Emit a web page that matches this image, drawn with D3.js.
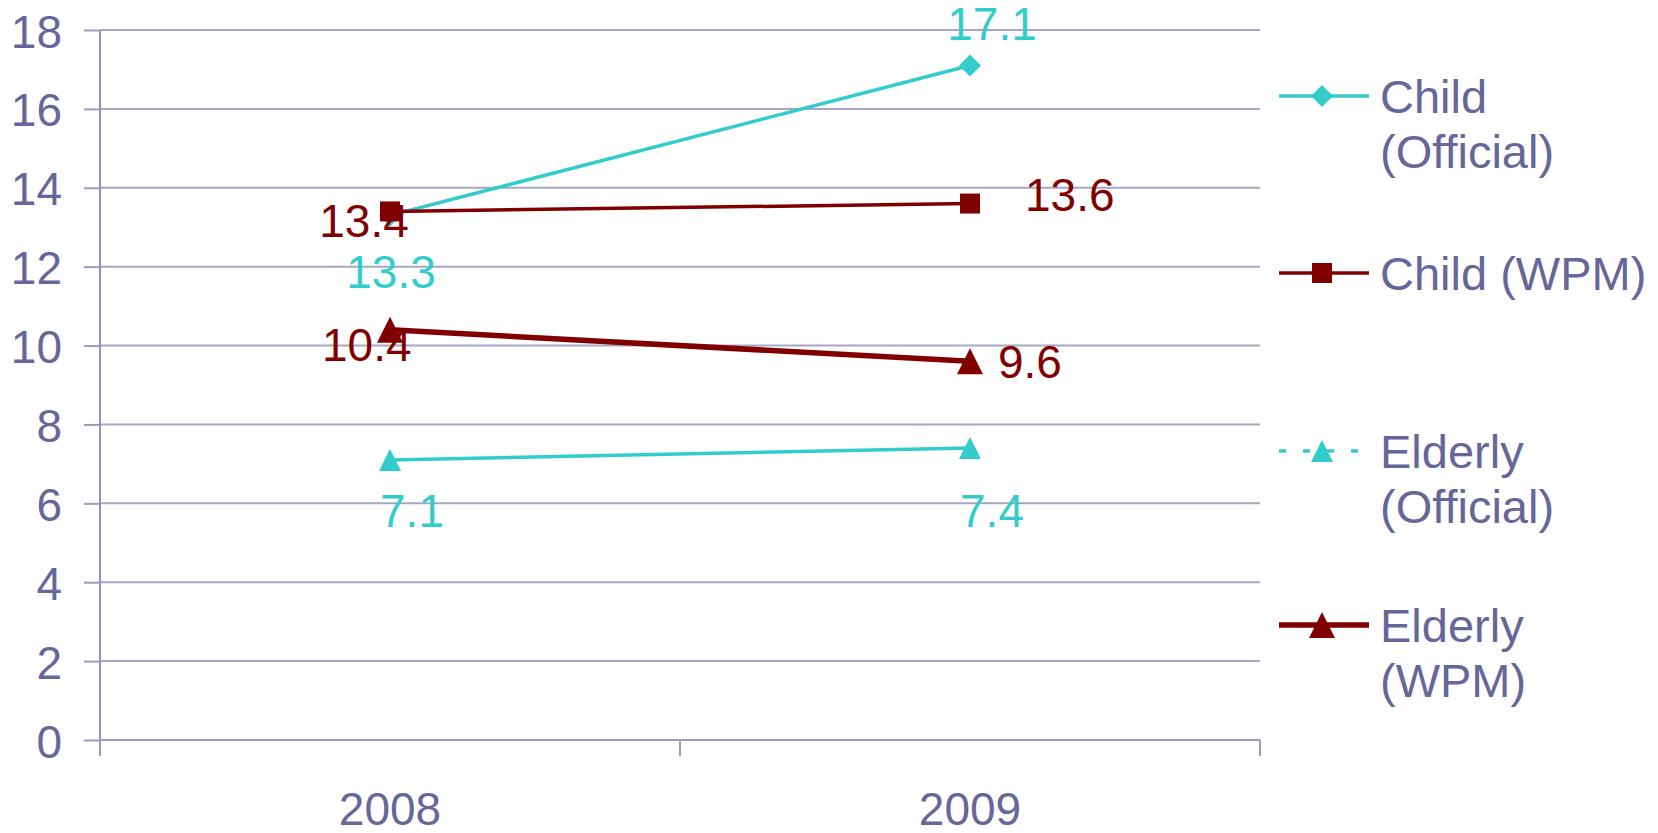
<!DOCTYPE html>
<html>
<head>
<meta charset="utf-8">
<script src="https://cdn.jsdelivr.net/npm/d3@7"></script>
<style>
  html, body { margin: 0; padding: 0; background: #ffffff; }
  svg { display: block; font-family: "Liberation Sans", Arial, sans-serif; }
</style>
</head>
<body>
<svg id="chart" width="1658" height="833"></svg>
<script>
// ---- data ----
const categories = ["2008", "2009"];
const yTicks = [0, 2, 4, 6, 8, 10, 12, 14, 16, 18];
const seriesNames = ["Child (Official)", "Child (WPM)", "Elderly (Official)", "Elderly (WPM)"];
const childOfficial = [13.3, 17.1];
const childWPM = [13.4, 13.6];
const elderlyOfficial = [7.1, 7.4];
const elderlyWPM = [10.4, 9.6];
const legendLines = [["Child", "(Official)"], ["Child (WPM)"], ["Elderly", "(Official)"], ["Elderly", "(WPM)"]];

// ---- styles ----
const teal = "#33CCCC", maroon = "#800000", textCol = "#666699";
const styles = [
  { color: teal,   width: 3.5, marker: "diamond",  size: 22, dash: null },
  { color: maroon, width: 3.5, marker: "square",   size: 20, dash: null },
  { color: teal,   width: 3.5, marker: "triangle", size: 22, dash: "7,17" },
  { color: maroon, width: 5.5, marker: "triangle", size: 26, dash: null }
];
// label placement: [dx from point, baseline y offset from point, anchor] per point
const labelPlacement = [
  [[1, 73, "middle"], [22, -26, "middle"]],
  [[-26, 26, "middle"], [55, 7, "start"]],
  [[22, 67, "middle"], [22, 79, "middle"]],
  [[-68, 31, "start"], [28, 17, "start"]]
];
const seriesValues = [childOfficial, childWPM, elderlyOfficial, elderlyWPM];

const svg = d3.select("#chart");
const plotLeft = 100, plotRight = 1260, plotTop = 30, plotBottom = 740;

const x = d3.scaleBand().domain(categories).range([plotLeft, plotRight]).paddingInner(0).paddingOuter(0);
const y = d3.scaleLinear().domain([0, 18]).range([plotBottom, plotTop]);
const cx = c => x(c) + x.bandwidth() / 2;

// gridlines
svg.append("g").selectAll("line").data(yTicks).join("line")
  .attr("x1", plotLeft).attr("x2", plotRight)
  .attr("y1", d => y(d)).attr("y2", d => y(d))
  .attr("stroke", "#A6A6C6").attr("stroke-width", 2);

// y axis
const yAxis = svg.append("g").attr("transform", `translate(${plotLeft},0)`)
  .call(d3.axisLeft(y).tickValues(yTicks).tickSize(16).tickPadding(22).tickSizeOuter(0));
yAxis.select(".domain").remove();
yAxis.selectAll(".tick line").attr("stroke", "#9C9CC0").attr("stroke-width", 2);
yAxis.selectAll(".tick text").attr("fill", textCol).attr("font-size", 46)
  .attr("font-family", "Liberation Sans, Arial, sans-serif").attr("dy", "0.37em");
svg.append("line").attr("x1", plotLeft).attr("x2", plotLeft).attr("y1", plotTop).attr("y2", plotBottom + 16)
  .attr("stroke", "#9090B8").attr("stroke-width", 2);

// x axis
svg.append("line").attr("x1", plotLeft).attr("x2", plotRight).attr("y1", plotBottom).attr("y2", plotBottom)
  .attr("stroke", "#9C9CC0").attr("stroke-width", 2);
const xBounds = [...categories.map(c => x(c)), plotRight];
svg.append("g").selectAll("line").data(xBounds).join("line")
  .attr("x1", d => d).attr("x2", d => d).attr("y1", plotBottom).attr("y2", plotBottom + 16)
  .attr("stroke", "#9C9CC0").attr("stroke-width", 2);
svg.append("g").selectAll("text").data(categories).join("text")
  .attr("x", d => cx(d)).attr("y", 825).attr("text-anchor", "middle")
  .attr("fill", textCol).attr("font-size", 46).text(d => d);

function markerPath(type, size) {
  const h = size / 2;
  if (type === "square") return `M${-h},${-h}H${h}V${h}H${-h}Z`;
  if (type === "diamond") return `M0,${-h}L${h},0L0,${h}L${-h},0Z`;
  return `M0,${-h}L${h},${h}L${-h},${h}Z`;
}

const line = d3.line().x((d, i) => cx(categories[i])).y(d => y(d));

seriesValues.forEach((vals, si) => {
  const st = styles[si];
  const g = svg.append("g");
  g.append("path").datum(vals).attr("d", line)
    .attr("fill", "none").attr("stroke", st.color).attr("stroke-width", st.width);
  g.selectAll("path.m").data(vals).join("path").attr("class", "m")
    .attr("transform", (d, i) => `translate(${cx(categories[i])},${y(d)})`)
    .attr("d", markerPath(st.marker, st.size)).attr("fill", st.color);
});

// data labels
seriesValues.forEach((vals, si) => {
  const st = styles[si];
  svg.append("g").selectAll("text").data(vals).join("text")
    .attr("x", (d, i) => cx(categories[i]) + labelPlacement[si][i][0])
    .attr("y", (d, i) => y(d) + labelPlacement[si][i][1])
    .attr("text-anchor", (d, i) => labelPlacement[si][i][2])
    .attr("fill", st.color).attr("font-size", 46).text(d => d.toFixed(1));
});

// legend
const legendY = [96, 273, 451, 625];
const lg = svg.append("g");
seriesNames.forEach((name, i) => {
  const st = styles[i];
  const g = lg.append("g").attr("transform", `translate(0,${legendY[i]})`);
  g.append("line").attr("x1", 1279).attr("x2", 1369).attr("y1", 0).attr("y2", 0)
    .attr("stroke", st.color).attr("stroke-width", st.width)
    .attr("stroke-dasharray", st.dash);
  g.append("path").attr("transform", "translate(1322,0)")
    .attr("d", markerPath(st.marker, st.size)).attr("fill", st.color);
  const t = g.append("text").attr("x", 1380).attr("y", 17)
    .attr("fill", textCol).attr("font-size", 47);
  legendLines[i].forEach((ln, k) => {
    t.append("tspan").attr("x", 1380).attr("dy", k === 0 ? 0 : 55).text(ln);
  });
});
</script>
</body>
</html>
